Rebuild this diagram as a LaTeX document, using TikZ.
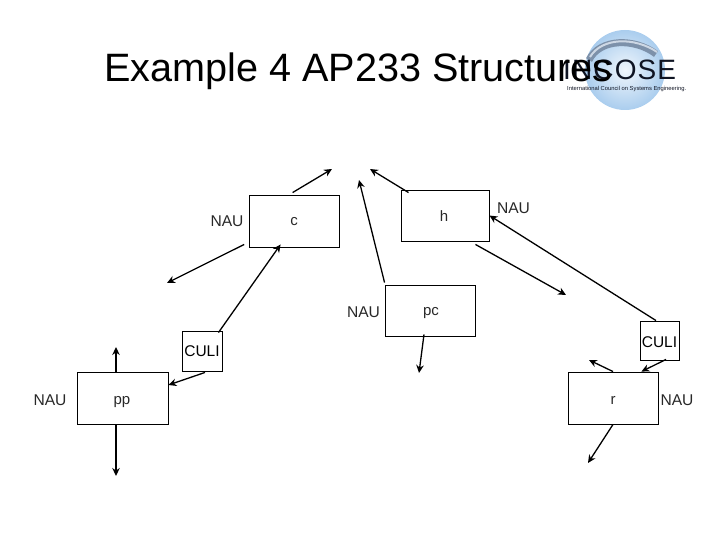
\documentclass[tikz,border=0pt]{standalone}
\usepackage{fontspec}
\setmainfont{Liberation Sans}
\usetikzlibrary{arrows.meta,calc}
\definecolor{globeA}{RGB}{240,246,252}
\definecolor{globeB}{RGB}{170,205,238}
\definecolor{swoosh}{RGB}{125,145,170}
\definecolor{swooshL}{RGB}{205,215,228}
\definecolor{logoink}{RGB}{15,20,35}
\definecolor{lbl}{RGB}{40,40,40}
\tikzset{
  box/.style={draw=black,line width=0.9pt,minimum width=90pt,minimum height=51pt,inner sep=0pt},
  culibox/.style={draw=black,line width=0.9pt,minimum width=39pt,minimum height=39pt,inner sep=0pt},
  nau/.style={inner sep=0pt,font=\fontsize{15.6}{15.6}\selectfont,text=lbl},
  boxlabel/.style={inner sep=0pt,font=\fontsize{15}{15}\selectfont,text=lbl},
  culilabel/.style={inner sep=0pt,font=\fontsize{15.5}{15.5}\selectfont},
  arr/.style={draw=black,line width=1.3pt,-{Stealth[length=8pt,width=7.5pt]}},
  thickarr/.style={draw=black,line width=1.9pt,-{Stealth[length=8pt,width=7.5pt]}},
}
\begin{document}
\begin{tikzpicture}[x=1pt,y=-1pt]
\useasboundingbox (0,0) rectangle (720,540);
% logo
\node[circle,minimum size=80pt,inner sep=0pt,inner color=globeA,outer color=globeB] (globe) at (625,70) {};
\draw[swoosh,line width=7pt] (589,60) .. controls (600,38) and (635,38) .. (656,54);
\draw[swooshL,line width=2pt] (590,57) .. controls (602,37) and (635,37) .. (657,52);
\node[inner sep=0pt,anchor=base west,text=logoink,font=\fontsize{28}{28}\selectfont] (logotext) at (563,80) {\addfontfeature{LetterSpace=4}INCOSE};
\node[inner sep=0pt,anchor=west,text=logoink,font=\fontsize{5.8}{5.8}\selectfont] (logosub) at (567,89.5) {International Council on Systems Engineering.};
% title
\node[inner sep=0pt,anchor=base west,font=\fontsize{39.6}{39.6}\selectfont] (title) at (104,82) {Example 4 AP233 Structures};
% boxes
\node[box,minimum width=90pt,minimum height=52pt] (c) at (294.6,221) {};
\node[box,minimum width=88pt,minimum height=51pt] (h) at (445,215.5) {};
\node[box] (pc) at (430,310.5) {};
\node[box,minimum width=91pt,minimum height=52pt] (pp) at (122.5,398) {};
\node[box,minimum height=52pt] (r) at (613,398) {};
\node[culibox,minimum width=40pt,minimum height=40pt] (culiL) at (202,351) {};
\node[culibox] (culiR) at (659.5,340.5) {};
% box labels
\node[boxlabel] (tc) at (294,222) {c};
\node[boxlabel] (th) at (444,216) {h};
\node[boxlabel] (tpc) at (431,313) {pc};
\node[boxlabel] (tpp) at (122,402) {pp};
\node[boxlabel] (tr) at (613,400) {r};
\node[culilabel] (tcl) at (202,351) {CULI};
\node[culilabel] (tcr) at (659.5,342) {CULI};
\node[nau] (n1) at (227,221) {NAU};
\node[nau] (n2) at (363.5,312) {NAU};
\node[nau] (n3) at (513.5,208) {NAU};
\node[nau] (n4) at (50,400) {NAU};
\node[nau] (n5) at (677,400) {NAU};
% free ends
\coordinate (e1) at (332,169);
\coordinate (e2) at (167,283);
\coordinate (e3) at (359,180);
\coordinate (e4) at (370,169);
\coordinate (e5) at (566,295);
\coordinate (e6) at (419,373);
\coordinate (e7) at (589,360);
\coordinate (e8) at (588,463);
\coordinate (e9) at (116,347);
\coordinate (e10) at (116,476);
% connectors
\draw[arr] ($(c.north)+(-2,-2)$) -- (e1);
\draw[arr] ($(c.south west)+(-5,-3)$) -- (e2);
\draw[arr] ($(culiL.north east)+(-4,2)$) -- ($(c.south)+(-14,-3)$);
\draw[arr] ($(pc.north west)+(0,-2)$) -- (e3);
\draw[arr] ($(h.north west)+(8,3)$) -- (e4);
\draw[arr] ($(h.south east)+(-14,3)$) -- (e5);
\draw[arr] ($(culiR.north)+(-3.5,0)$) -- (h.east);
\draw[arr] ($(pc.south)+(-6,-2)$) -- (e6);
\draw[arr] ($(culiR.south)+(6.5,-1)$) -- ($(r.north east)+(-17,0)$);
\draw[arr] (r.north) -- (e7);
\draw[arr] (r.south) -- (e8);
\draw[thickarr] ($(pp.north)+(-6.5,0)$) -- (e9);
\draw[thickarr] ($(pp.south)+(-6.5,0)$) -- (e10);
\draw[arr] ($(culiL.south)+(3,1)$) -- ($(pp.east)+(0,-13)$);
\end{tikzpicture}
\end{document}
